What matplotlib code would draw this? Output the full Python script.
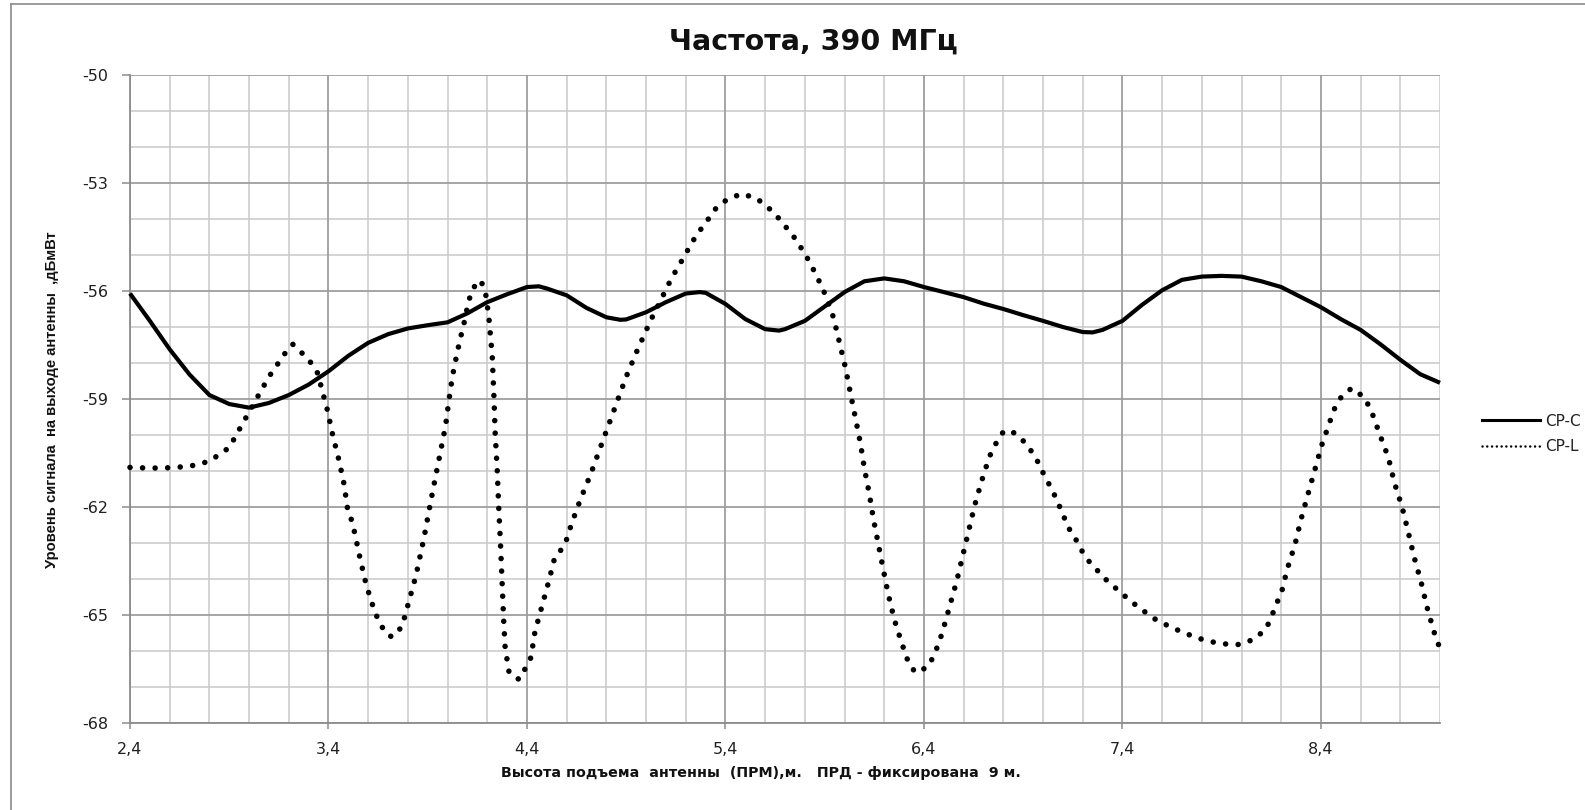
import matplotlib
matplotlib.use("Agg")
import matplotlib.pyplot as plt
from matplotlib.lines import Line2D

plt.rcParams["font.family"] = ["DejaVu Sans"]

# ---------------- data ----------------
title = "Частота, 390 МГц"
xlabel = "Высота подъема  антенны  (ПРМ),м.   ПРД - фиксирована  9 м."
ylabel = "Уровень сигнала  на выходе антенны  ,дБмВт"
series_names = ["CP-C", "CP-L"]   # legend labels as visible (cut at the edge) in the reference

x_ticks = [2.4, 3.4, 4.4, 5.4, 6.4, 7.4, 8.4]
x_ticklabels = ["2,4", "3,4", "4,4", "5,4", "6,4", "7,4", "8,4"]
y_ticks = [-68, -65, -62, -59, -56, -53, -50]
y_ticklabels = ["-68", "-65", "-62", "-59", "-56", "-53", "-50"]

cp_x = [2.4, 2.5, 2.6, 2.7, 2.8, 2.9, 3.0, 3.1, 3.2, 3.3, 3.4, 3.5, 3.6, 3.7,
        3.8, 3.9, 4.0, 4.1, 4.2, 4.3, 4.4, 4.46, 4.5, 4.6, 4.7, 4.8, 4.87, 4.9,
        5.0, 5.1, 5.2, 5.27, 5.3, 5.4, 5.5, 5.6, 5.67, 5.7, 5.8, 5.9, 6.0, 6.1,
        6.2, 6.3, 6.4, 6.5, 6.6, 6.7, 6.8, 6.9, 7.0, 7.1, 7.2, 7.25, 7.3, 7.4,
        7.5, 7.6, 7.7, 7.8, 7.9, 8.0, 8.1, 8.2, 8.3, 8.4, 8.5, 8.6, 8.7, 8.8,
        8.9, 9.0]
cp_y = [-56.07, -56.83, -57.62, -58.32, -58.89, -59.14, -59.24, -59.11, -58.89,
        -58.60, -58.23, -57.80, -57.44, -57.20, -57.04, -56.95, -56.87, -56.62,
        -56.31, -56.09, -55.89, -55.87, -55.93, -56.12, -56.47, -56.73, -56.80,
        -56.79, -56.59, -56.31, -56.07, -56.03, -56.05, -56.36, -56.78, -57.06,
        -57.10, -57.06, -56.83, -56.43, -56.03, -55.73, -55.65, -55.73, -55.89,
        -56.03, -56.17, -56.35, -56.50, -56.67, -56.83, -57.00, -57.14, -57.15,
        -57.08, -56.83, -56.38, -55.98, -55.69, -55.60, -55.58, -55.60, -55.73,
        -55.89, -56.17, -56.45, -56.78, -57.08, -57.48, -57.91, -58.31, -58.55]

lp_x = [2.4, 2.5, 2.6, 2.7, 2.8, 2.9, 3.0, 3.1, 3.2, 3.22, 3.3, 3.345, 3.395,
        3.42, 3.454, 3.479, 3.497, 3.52, 3.535, 3.56, 3.59, 3.63, 3.655, 3.69,
        3.72, 3.77, 3.805, 3.84, 3.88, 3.915, 3.94, 3.965, 3.99, 4.007, 4.024,
        4.05, 4.065, 4.08, 4.107, 4.13, 4.166, 4.19, 4.208, 4.225, 4.233, 4.24,
        4.25, 4.258, 4.267, 4.275, 4.283, 4.29, 4.31, 4.36, 4.39, 4.42, 4.44,
        4.475, 4.51, 4.54, 4.59, 4.625, 4.67, 4.72, 4.765, 4.81, 4.855, 4.9,
        4.95, 5.005, 5.035, 5.07, 5.1, 5.13, 5.165, 5.2, 5.23, 5.27, 5.31, 5.35,
        5.405, 5.48, 5.555, 5.615, 5.665, 5.71, 5.755, 5.79, 5.825, 5.855,
        5.885, 5.91, 5.945, 5.975, 6.005, 6.03, 6.055, 6.08, 6.1, 6.125, 6.145,
        6.17, 6.195, 6.22, 6.25, 6.27, 6.29, 6.31, 6.34, 6.36, 6.42, 6.45,
        6.475, 6.495, 6.53, 6.565, 6.595, 6.625, 6.655, 6.69, 6.73, 6.76, 6.8,
        6.84, 6.91, 6.95, 6.985, 7.01, 7.045, 7.07, 7.1, 7.12, 7.16, 7.19, 7.23,
        7.28, 7.33, 7.385, 7.44, 7.5, 7.56, 7.63, 7.67, 7.75, 7.82, 7.9, 7.99,
        8.06, 8.12, 8.15, 8.17, 8.2, 8.23, 8.27, 8.3, 8.335, 8.37, 8.405,
        8.447, 8.47, 8.505, 8.555, 8.615, 8.65, 8.695, 8.74, 8.77, 8.81, 8.84,
        8.87, 8.905, 8.935, 8.97, 8.99, 9.0]
lp_y = [-60.90, -60.92, -60.91, -60.87, -60.73, -60.35, -59.36, -58.38, -57.58,
        -57.48, -57.90, -58.28, -59.32, -59.97, -60.73, -61.38, -62.09, -62.42,
        -62.80, -63.45, -64.16, -64.86, -65.19, -65.52, -65.61, -65.33, -64.63,
        -63.92, -62.89, -61.85, -61.15, -60.44, -59.74, -59.03, -58.38, -57.67,
        -57.30, -56.97, -56.26, -55.91, -55.70, -56.00, -56.73, -57.81, -58.85,
        -59.97, -60.96, -62.04, -63.08, -64.11, -65.19, -65.90, -66.60, -66.79,
        -66.50, -66.18, -65.47, -64.77, -64.06, -63.40, -63.07, -62.46, -61.78,
        -61.10, -60.42, -59.74, -59.06, -58.38, -57.72, -57.04, -56.68, -56.31,
        -55.96, -55.63, -55.30, -54.97, -54.66, -54.33, -54.03, -53.72, -53.47,
        -53.30, -53.42, -53.68, -53.96, -54.26, -54.57, -54.88, -55.20, -55.54,
        -55.87, -56.20, -56.75, -57.44, -58.14, -58.85, -59.53, -60.23, -60.93,
        -61.64, -62.32, -63.03, -63.73, -64.42, -65.11, -65.47, -65.80, -66.16,
        -66.48, -66.60, -66.44, -66.13, -65.78, -65.44, -64.75, -64.06, -63.36,
        -62.67, -61.97, -61.29, -60.60, -60.26, -59.91, -59.88, -60.21, -60.52,
        -60.85, -61.18, -61.50, -61.83, -62.18, -62.51, -62.84, -63.17, -63.50,
        -63.80, -64.09, -64.34, -64.61, -64.86, -65.10, -65.30, -65.40, -65.58,
        -65.71, -65.80, -65.82, -65.68, -65.41, -65.08, -64.75, -64.41, -63.73,
        -63.03, -62.34, -61.64, -60.96, -60.27, -59.60, -59.25, -58.92, -58.70,
        -58.94, -59.27, -59.96, -60.63, -61.32, -62.02, -62.70, -63.40, -64.09,
        -64.79, -65.47, -65.80, -65.88]

# ---------------- figure ----------------
W, H, DPI = 1585, 810, 100
fig = plt.figure(figsize=(W / DPI, H / DPI), dpi=DPI)
fig.patch.set_facecolor("white")

ax = fig.add_axes([130 / W, 1 - 723 / H, (1440 - 130) / W, (723 - 75) / H])
ax.set_xlim(2.4, 9.0)
ax.set_ylim(-68, -50)

# grid: minor every 0.2 / 1, major every 1.0 / 3
minor_x = [2.4 + 0.2 * i for i in range(34)]
minor_y = list(range(-68, -49))
for xv in minor_x:
    ax.axvline(xv, color="#c9c9c9", lw=1.1, zorder=0)
for yv in minor_y:
    ax.axhline(yv, color="#c9c9c9", lw=1.1, zorder=0)
for xv in x_ticks:
    ax.axvline(xv, color="#9a9a9a", lw=1.1, zorder=0)
for yv in y_ticks:
    ax.axhline(yv, color="#9a9a9a", lw=1.1, zorder=0)

for s in ["top", "right"]:
    ax.spines[s].set_visible(False)
for s in ["left", "bottom"]:
    ax.spines[s].set_color("#8c8c8c")
    ax.spines[s].set_linewidth(1.3)

ax.set_xticks(x_ticks)
ax.set_xticklabels(x_ticklabels)
ax.set_yticks(y_ticks)
ax.set_yticklabels(y_ticklabels)
ax.tick_params(axis="y", length=5.5, width=1.1, color="#8c8c8c", pad=10,
               labelsize=11.5, labelcolor="#202020")
ax.tick_params(axis="x", length=4, width=1.1, color="#8c8c8c", pad=10,
               labelsize=11.5, labelcolor="#202020")

# series
ax.plot(cp_x, cp_y, color="black", lw=3.0, solid_capstyle="butt",
        solid_joinstyle="round", zorder=3, clip_on=False)
ax.plot(lp_x, lp_y, color="black", lw=4.0, linestyle=(0, (0.01, 2.25)),
        dash_capstyle="round", zorder=3, clip_on=False)

# title and axis labels
fig.text(813 / W, 1 - 42 / H, title, ha="center", va="center",
         fontsize=20.5, fontweight="bold", color="#111111")
fig.text(761 / W, 1 - 773 / H, xlabel, ha="center", va="center",
         fontsize=10.3, fontweight="bold", color="#111111")
fig.text(52 / W, 1 - 400 / H, ylabel, ha="center", va="center",
         rotation=90, fontsize=10.6, fontweight="bold", color="#111111",
         family="Liberation Sans")

# legend (proxy handles)
h1 = Line2D([], [], color="black", lw=2.2)
h2 = Line2D([], [], color="black", lw=1.8, linestyle=(0, (0.01, 1.9)),
            dash_capstyle="round")
leg = fig.legend([h1, h2], series_names, loc="center left",
                 bbox_to_anchor=(1476 / W, 1 - 434 / H), frameon=False,
                 prop={"family": "DejaVu Sans", "size": 11},
                 handlelength=3.8, handletextpad=0.3,
                 labelspacing=0.7, borderaxespad=0)
for t in leg.get_texts():
    t.set_color("#202020")

# outer chart border (left and top visible in the reference)
fig.add_artist(Line2D([11 / W, 11 / W], [0, 1 - 4 / H], color="#8a8a8a",
                      lw=1.2, transform=fig.transFigure))
fig.add_artist(Line2D([11 / W, 1], [1 - 4 / H, 1 - 4 / H], color="#8a8a8a",
                      lw=1.2, transform=fig.transFigure))

fig.savefig("out.png", dpi=DPI)
